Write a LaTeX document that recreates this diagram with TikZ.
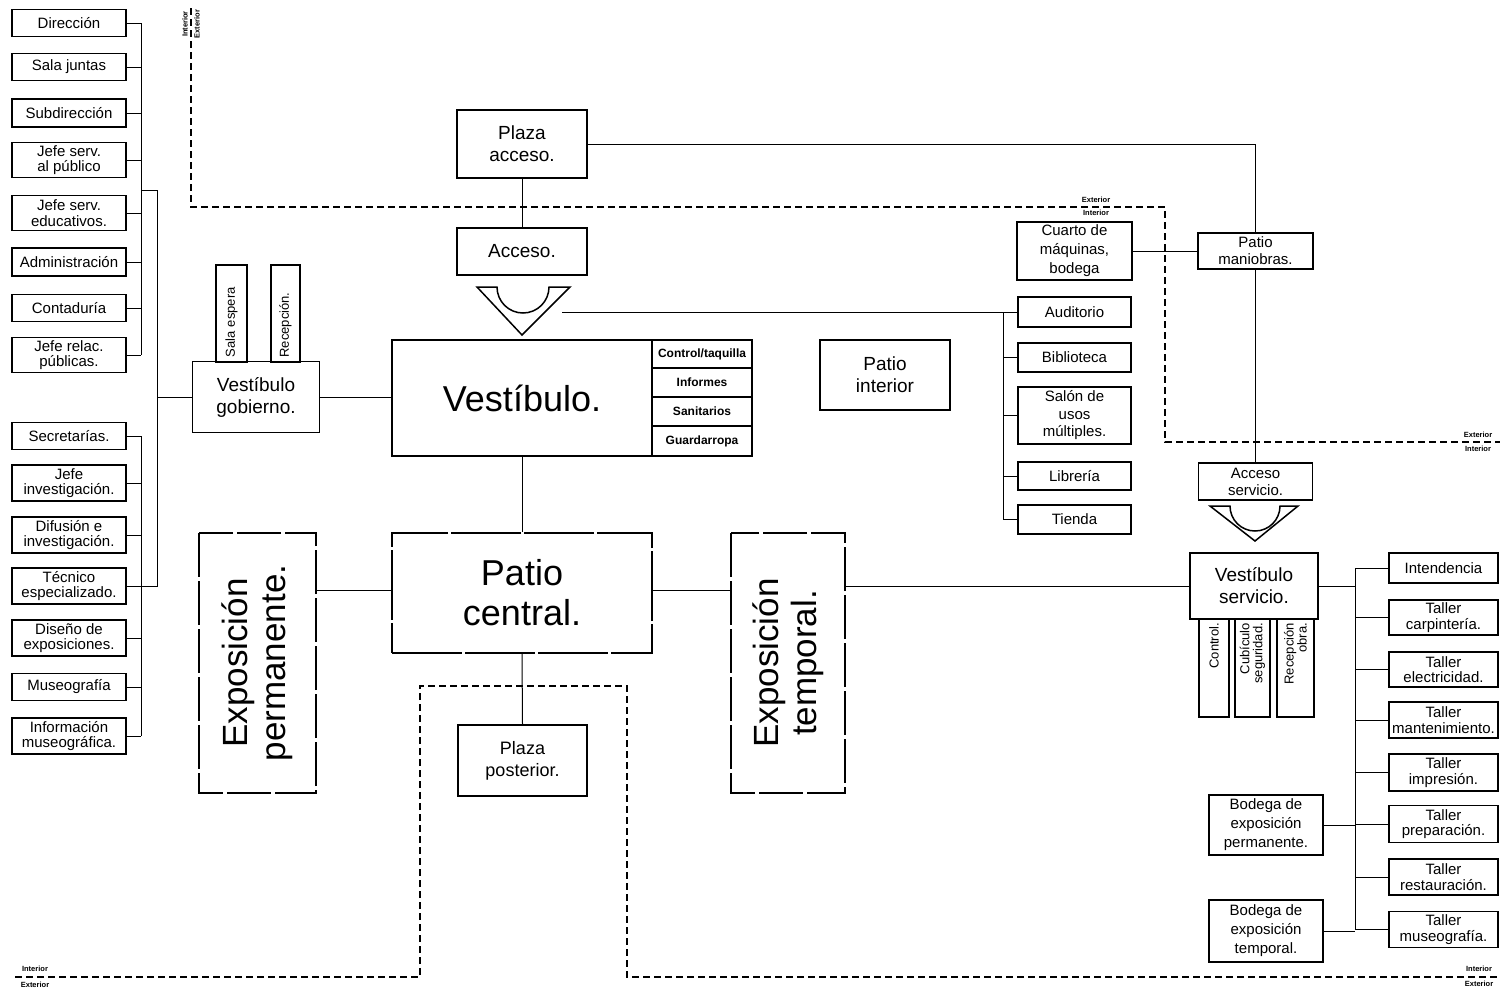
\documentclass[tikz,border=0pt]{standalone}
\usepackage{fontspec}
\setmainfont{Liberation Sans}
\newcommand\fsz[2]{\fontsize{#1}{#2}\selectfont}
\begin{document}
\begin{tikzpicture}[x=1pt,y=-1pt,
  box/.style={draw,line width=1.7pt,align=center,inner sep=0pt,font=\fsz{15}{15.5}},
  sz/.style 2 args={minimum width=#1pt,minimum height=#2pt},
  big/.style={font=\fsz{19}{22}},
  huge/.style={font=\fsz{36}{40}},
  small/.style={font=\bfseries\fsz{12}{13}},
  vert/.style={draw,line width=1.7pt,rotate=90,inner sep=2pt,font=\fsz{13}{14}},
  rough/.style={draw,line width=1.4pt,dash pattern=on 44pt off 4pt},
  roughp/.style={draw,line width=1.6pt,dash pattern=on 70pt off 3pt},
  conn/.style={line width=1pt},
  bound/.style={line width=1.1pt,dash pattern=on 7pt off 4pt},
  lbl/.style={inner sep=0pt,font=\bfseries\fsz{7.5}{8}},
  sym/.style={line width=1.5pt,line join=miter}
]
\useasboundingbox (0,0) rectangle (1500,989);

% ---------- left list (top) ----------
\node[box,sz={114}{27}] (dir)  at (69,23)  {Dirección};
\node[box,sz={114}{27}] (sala) at (69,67)  {Sala juntas};
\node[box,sz={114}{28}] (subd) at (69,113) {Subdirección};
\node[box,sz={114}{35}] (jsp)  at (69,160) {Jefe serv.\\al público};
\node[box,sz={114}{35}] (jse)  at (69,213) {Jefe serv.\\educativos.};
\node[box,sz={114}{28}] (adm)  at (69,262) {Administración};
\node[box,sz={114}{27}] (cont) at (69,308) {Contaduría};
\node[box,sz={114}{35}] (jrp)  at (69,355) {Jefe relac.\\públicas.};
% ---------- left list (bottom) ----------
\node[box,sz={114}{27}] (sec)  at (69,436) {Secretarías.};
\node[box,sz={114}{36}] (jinv) at (69,483) {Jefe\\investigación.};
\node[box,sz={114}{36}] (dif)  at (69,535) {Difusión e\\investigación.};
\node[box,sz={114}{36}] (tec)  at (69,586) {Técnico\\especializado.};
\node[box,sz={114}{36}] (dis)  at (69,638) {Diseño de\\exposiciones.};
\node[box,sz={114}{27}] (mus)  at (69,687) {Museografía};
\node[box,sz={114}{36}] (inf)  at (69,736) {Información\\museográfica.};

\coordinate (b1) at (141,0);
\coordinate (b2) at (157,0);
\coordinate (j1) at (141,190);
\draw[conn] (dir.east -| b1) -- (jrp.east -| b1);
\foreach \n in {dir,sala,subd,jsp,jse,adm,cont,jrp}
  \draw[conn] (\n.east) -- (\n.east -| b1);
\draw[conn] (sec.east -| b1) -- (inf.east -| b1);
\foreach \n in {sec,jinv,dif,dis,mus,inf}
  \draw[conn] (\n.east) -- (\n.east -| b1);
\draw[conn] (j1) -- (j1 -| b2) -- (tec.east -| b2) -- (tec.east);

% ---------- vestibulo gobierno ----------
\node[box,big,sz={127}{71}] (vg) at (256,397) {Vestíbulo\\gobierno.};
\node[vert,minimum width=97pt,minimum height=31pt,text width=88pt,align=left] (se) at (231.5,313.5) {Sala espera};
\node[vert,minimum width=97pt,minimum height=29pt,text width=88pt,align=left] (rec) at (285.5,313.5) {Recepción.};
\draw[conn] (vg.west -| b2) -- (vg.west);

% ---------- vestibulo ----------
\node[box,huge,sz={260}{116}] (vest) at (522,398) {Vestíbulo.};
\node[box,small,sz={100}{28}] (ct)   at (702,354)   {Control/taquilla};
\node[box,small,sz={100}{29}] (infm) at (702,382.5) {Informes};
\node[box,small,sz={100}{29}] (san)  at (702,411.5) {Sanitarios};
\node[box,small,sz={100}{30}] (gua)  at (702,441)   {Guardarropa};
\draw[conn] (vg.east) -- (vest.west |- vg.east);

% ---------- plaza acceso / acceso ----------
\node[box,big,sz={130}{68}] (pa)  at (522,144)   {Plaza\\acceso.};
\node[box,big,sz={130}{47}] (acc) at (522,251.5) {Acceso.};
\draw[line width=0.8pt] (pa.south) -- (acc.north);
\draw[sym] (477,287) -- (497,287) arc[start angle=180,end angle=0,radius=26]
  -- (570,287) -- (522,335) -- cycle;

% ---------- patio central and exhibitions ----------
\node[roughp,huge,align=center,inner sep=0pt,sz={260}{120}] (pc) at (522,593) {Patio\\central.};
\node[rough,align=center,rotate=90,inner sep=0pt,font=\fsz{35}{38},minimum width=260pt,minimum height=117pt] (ep) at (257.5,663) {Exposición\\permanente.};
\node[rough,align=center,rotate=90,inner sep=0pt,font=\fsz{35}{38},minimum width=260pt,minimum height=114pt] (et) at (788,663) {Exposición\\temporal.};
\node[box,big,font=\fsz{18}{22},sz={129}{71}] (pp) at (522.5,760.5) {Plaza\\posterior.};
\node[box,big,sz={130}{70}] (pi) at (885,375) {Patio\\interior};
\draw[conn] (vest.south) -- (pc.north);
\draw[conn] (pc.south) -- (pp.north);
\draw[conn] (ep.south |- 0,590) -- (pc.west |- 0,590);
\draw[conn] (pc.east |- 0,590) -- (et.north |- 0,590);

% ---------- right top ----------
\node[box,font=\fsz{15}{19},sz={115}{58}] (cm) at (1074.5,251) {Cuarto de\\máquinas,\\bodega};
\node[box,font=\fsz{15}{17},sz={115}{36}] (pm) at (1255.5,251) {Patio\\maniobras.};
\draw[conn] (pa.east) -| (pm.north);
\draw[conn] (cm.east) -- (pm.west);
\node[box,sz={113}{30}] (aud) at (1074.5,312)   {Auditorio};
\node[box,sz={113}{29}] (bib) at (1074.5,357.5) {Biblioteca};
\node[box,font=\fsz{15}{17.5},sz={113}{57}] (sal) at (1074.5,415.5) {Salón de\\usos\\múltiples.};
\node[box,sz={113}{28}] (lib) at (1074.5,476)   {Librería};
\node[box,sz={113}{29}] (tie) at (1074.5,519.5) {Tienda};
\coordinate (b3) at (1003,0);
\coordinate (entR) at (562,312);
\draw[conn] (entR) -- (aud.west);
\draw[conn] (aud.west -| b3) -- (tie.west -| b3);
\foreach \n in {bib,sal,lib,tie}
  \draw[conn] (\n.west -| b3) -- (\n.west);

% ---------- service area ----------
\node[box,font=\fsz{15}{17},sz={114}{37}] (as) at (1255.5,481.5) {Acceso\\servicio.};
\draw[conn] (pm.south) -- (as.north);
\draw[sym] (1210,506) -- (1230,506) arc[start angle=180,end angle=0,radius=25]
  -- (1298,506) -- (1255,541) -- cycle;
\node[box,big,sz={128}{66}] (vs) at (1254,586) {Vestíbulo\\servicio.};
\node[vert,minimum width=98pt,minimum height=30pt,text width=90pt,align=right] (ctl) at (1214,668) {Control.};
\node[vert,minimum width=98pt,minimum height=35pt,text width=90pt,align=right,font=\fsz{13}{13}] (cub) at (1252.5,668) {Cubículo\\seguridad.};
\node[vert,minimum width=98pt,minimum height=37pt,text width=90pt,align=right,font=\fsz{13}{13}] (rob) at (1295.5,668) {Recepción\\obra.};
\draw[conn] (et.south |- vs.west) -- (vs.west);

\node[box,sz={109}{30}] (int) at (1443.5,568)   {Intendencia};
\node[box,sz={109}{35}] (tca) at (1443.5,617.5) {Taller\\carpintería.};
\node[box,sz={109}{35}] (tel) at (1443.5,669.5) {Taller\\electricidad.};
\node[box,sz={109}{36}] (tma) at (1443.5,720)   {Taller\\mantenimiento.};
\node[box,sz={109}{37}] (tim) at (1443.5,772.5) {Taller\\impresión.};
\node[box,sz={109}{37}] (tpr) at (1443.5,824)   {Taller\\preparación.};
\node[box,sz={109}{36}] (tre) at (1443.5,877)   {Taller\\restauración.};
\node[box,sz={109}{36}] (tmu) at (1443.5,929.5) {Taller\\museografía.};
\node[box,font=\fsz{15}{19},sz={114}{60}] (bep) at (1266,825) {Bodega de\\exposición\\permanente.};
\node[box,font=\fsz{15}{19},sz={114}{62}] (bet) at (1266,931) {Bodega de\\exposición\\temporal.};
\coordinate (b4) at (1355,0);
\draw[conn] (int.west -| b4) -- (tmu.west -| b4);
\foreach \n in {int,tca,tel,tma,tim,tpr,tre,tmu}
  \draw[conn] (\n.west -| b4) -- (\n.west);
\draw[conn] (vs.east) -- (vs.east -| b4);
\draw[conn] (bep.east) -- (bep.east -| b4);
\draw[conn] (bet.east) -- (bet.east -| b4);

% ---------- interior / exterior boundaries ----------
\draw[bound] (191,8) -- (191,207) -- (1165,207) -- (1165,442) -- (1500,442);
\draw[bound] (15,977) -- (420,977) -- (420,686) -- (627,686) -- (627,977) -- (1500,977);
\node[lbl,rotate=90] (l1) at (185,24) {Interior};
\node[lbl,rotate=90] (l2) at (197,24) {Exterior};
\node[lbl] (l3) at (1096,200) {Exterior};
\node[lbl] (l4) at (1096,213) {Interior};
\node[lbl] (l5) at (1478,435) {Exterior};
\node[lbl] (l6) at (1478,449) {Interior};
\node[lbl] (l7) at (35,969) {Interior};
\node[lbl] (l8) at (35,985) {Exterior};
\node[lbl] (l9) at (1479,969) {Interior};
\node[lbl] (l10) at (1479,984) {Exterior};
\end{tikzpicture}
\end{document}
